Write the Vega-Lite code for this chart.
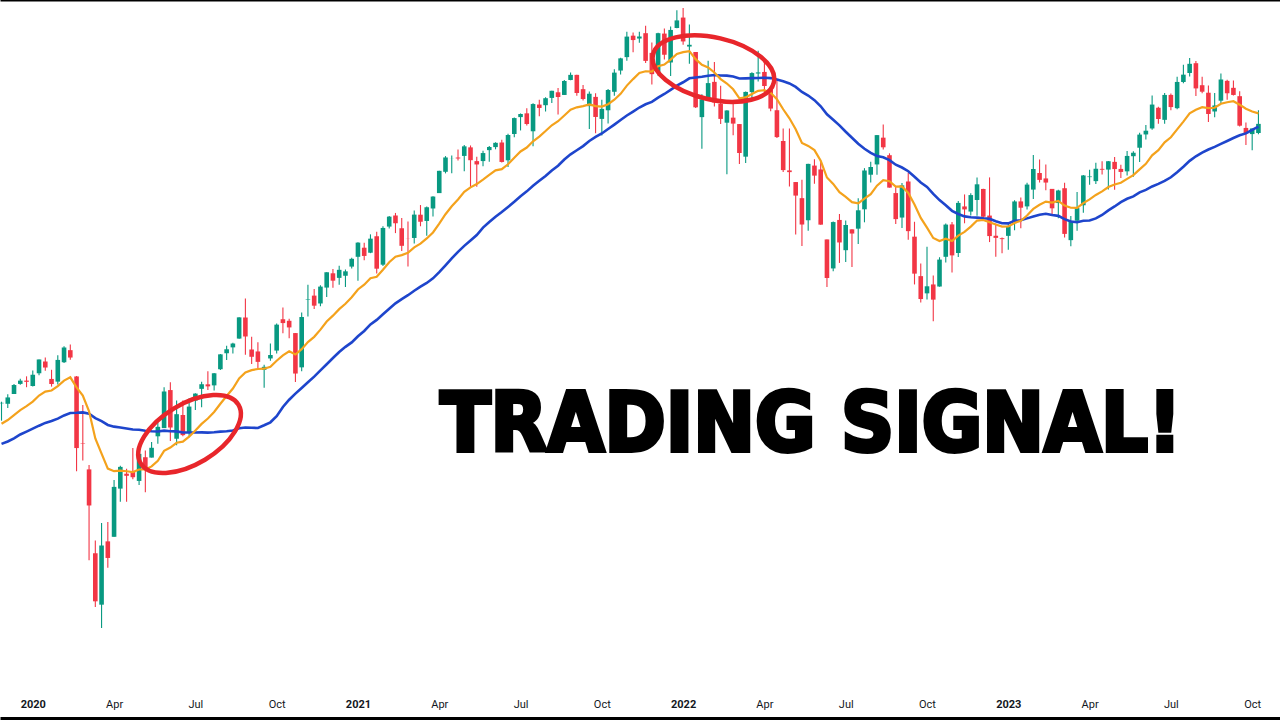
{
  "$schema": "https://vega.github.io/schema/vega-lite/v6.json",
  "width": 1280,
  "height": 718,
  "padding": {"left": 0, "top": 0, "right": 0, "bottom": 2},
  "autosize": "none",
  "background": "#ffffff",
  "config": {"view": {"stroke": null}, "axis": {"grid": false}},
  "datasets": {
    "bars": [
      {"date":"2019-12-02","open":3143.85,"high":3150.6,"low":3070.33,"close":3145.91,"ema13":3057.0,"sma30":2971.9},
      {"date":"2019-12-09","open":3141.86,"high":3182.68,"low":3123.9,"close":3168.8,"ema13":3073.0,"sma30":2982.2},
      {"date":"2019-12-16","open":3183.63,"high":3225.65,"low":3183.63,"close":3221.22,"ema13":3094.1,"sma30":2995.4},
      {"date":"2019-12-23","open":3226.05,"high":3247.93,"low":3223.0,"close":3240.02,"ema13":3114.9,"sma30":3011.7},
      {"date":"2019-12-30","open":3240.09,"high":3258.14,"low":3212.03,"close":3234.85,"ema13":3132.1,"sma30":3023.7},
      {"date":"2020-01-06","open":3217.55,"high":3282.99,"low":3214.64,"close":3265.35,"ema13":3151.1,"sma30":3036.3},
      {"date":"2020-01-13","open":3271.13,"high":3329.88,"low":3263.04,"close":3329.62,"ema13":3176.7,"sma30":3049.0},
      {"date":"2020-01-20","open":3321.03,"high":3337.77,"low":3281.53,"close":3295.47,"ema13":3193.6,"sma30":3060.8},
      {"date":"2020-01-27","open":3247.16,"high":3285.91,"low":3214.68,"close":3225.52,"ema13":3198.2,"sma30":3068.6},
      {"date":"2020-02-03","open":3235.66,"high":3347.96,"low":3223.3,"close":3327.71,"ema13":3216.7,"sma30":3079.1},
      {"date":"2020-02-10","open":3318.28,"high":3385.09,"low":3315.0,"close":3380.16,"ema13":3240.0,"sma30":3092.5},
      {"date":"2020-02-17","open":3369.04,"high":3393.52,"low":3328.45,"close":3337.75,"ema13":3254.0,"sma30":3102.9},
      {"date":"2020-02-24","open":3257.61,"high":3259.81,"low":2855.84,"close":2954.22,"ema13":3211.1,"sma30":3103.7},
      {"date":"2020-03-02","open":2974.28,"high":3136.72,"low":2901.54,"close":2972.37,"ema13":3176.9,"sma30":3105.4},
      {"date":"2020-03-09","open":2863.89,"high":2882.59,"low":2478.86,"close":2711.02,"ema13":3110.3,"sma30":3099.5},
      {"date":"2020-03-16","open":2508.59,"high":2562.98,"low":2280.52,"close":2304.92,"ema13":2995.3,"sma30":3081.4},
      {"date":"2020-03-23","open":2290.71,"high":2637.01,"low":2191.86,"close":2541.47,"ema13":2930.4,"sma30":3068.6},
      {"date":"2020-03-30","open":2558.98,"high":2641.39,"low":2447.49,"close":2488.65,"ema13":2867.3,"sma30":3052.3},
      {"date":"2020-04-06","open":2578.28,"high":2818.57,"low":2578.28,"close":2789.82,"ema13":2856.3,"sma30":3045.0},
      {"date":"2020-04-13","open":2782.46,"high":2879.22,"low":2727.1,"close":2874.56,"ema13":2859.0,"sma30":3041.1},
      {"date":"2020-04-20","open":2845.62,"high":2867.01,"low":2727.1,"close":2836.74,"ema13":2855.9,"sma30":3037.0},
      {"date":"2020-04-27","open":2854.65,"high":2954.86,"low":2822.13,"close":2830.71,"ema13":2852.3,"sma30":3032.9},
      {"date":"2020-05-04","open":2815.01,"high":2932.16,"low":2797.85,"close":2929.8,"ema13":2863.4,"sma30":3031.6},
      {"date":"2020-05-11","open":2915.46,"high":2944.25,"low":2766.64,"close":2863.7,"ema13":2863.5,"sma30":3027.5},
      {"date":"2020-05-18","open":2913.86,"high":2980.29,"low":2913.86,"close":2955.45,"ema13":2876.6,"sma30":3025.3},
      {"date":"2020-05-25","open":3004.08,"high":3068.67,"low":2973.0,"close":3044.31,"ema13":2900.5,"sma30":3024.5},
      {"date":"2020-06-01","open":3038.78,"high":3211.72,"low":3038.78,"close":3193.93,"ema13":2942.4,"sma30":3027.9},
      {"date":"2020-06-08","open":3199.92,"high":3233.13,"low":2984.47,"close":3041.31,"ema13":2956.5,"sma30":3025.2},
      {"date":"2020-06-15","open":2993.76,"high":3155.53,"low":2965.66,"close":3097.74,"ema13":2976.7,"sma30":3024.8},
      {"date":"2020-06-22","open":3094.42,"high":3155.53,"low":3004.63,"close":3009.05,"ema13":2981.3,"sma30":3020.4},
      {"date":"2020-06-29","open":3018.59,"high":3165.81,"low":2999.74,"close":3130.01,"ema13":3002.5,"sma30":3019.9},
      {"date":"2020-07-06","open":3155.29,"high":3186.82,"low":3115.7,"close":3185.04,"ema13":3028.6,"sma30":3020.4},
      {"date":"2020-07-13","open":3205.08,"high":3235.32,"low":3127.66,"close":3224.73,"ema13":3056.7,"sma30":3020.6},
      {"date":"2020-07-20","open":3224.29,"high":3279.32,"low":3200.0,"close":3215.63,"ema13":3079.5,"sma30":3019.8},
      {"date":"2020-07-27","open":3219.84,"high":3272.17,"low":3198.59,"close":3271.12,"ema13":3106.9,"sma30":3021.0},
      {"date":"2020-08-03","open":3288.26,"high":3352.54,"low":3284.53,"close":3351.28,"ema13":3141.8,"sma30":3023.8},
      {"date":"2020-08-10","open":3356.04,"high":3387.89,"low":3327.0,"close":3372.85,"ema13":3174.8,"sma30":3025.3},
      {"date":"2020-08-17","open":3380.86,"high":3399.96,"low":3354.69,"close":3397.16,"ema13":3206.5,"sma30":3028.7},
      {"date":"2020-08-24","open":3418.09,"high":3509.0,"low":3417.0,"close":3508.01,"ema13":3249.6,"sma30":3038.1},
      {"date":"2020-08-31","open":3507.44,"high":3588.11,"low":3349.63,"close":3426.96,"ema13":3274.9,"sma30":3041.4},
      {"date":"2020-09-07","open":3371.88,"high":3425.55,"low":3310.47,"close":3340.97,"ema13":3284.3,"sma30":3040.1},
      {"date":"2020-09-14","open":3363.56,"high":3402.93,"low":3292.4,"close":3319.47,"ema13":3289.3,"sma30":3039.4},
      {"date":"2020-09-21","open":3285.57,"high":3306.88,"low":3209.45,"close":3298.46,"ema13":3290.5,"sma30":3050.9},
      {"date":"2020-09-28","open":3333.9,"high":3397.18,"low":3323.69,"close":3348.44,"ema13":3298.7,"sma30":3063.4},
      {"date":"2020-10-05","open":3367.27,"high":3482.34,"low":3354.54,"close":3477.13,"ema13":3324.2,"sma30":3089.0},
      {"date":"2020-10-12","open":3500.02,"high":3549.85,"low":3440.45,"close":3483.81,"ema13":3347.0,"sma30":3128.3},
      {"date":"2020-10-19","open":3493.5,"high":3502.42,"low":3419.93,"close":3465.39,"ema13":3363.9,"sma30":3159.1},
      {"date":"2020-10-26","open":3441.42,"high":3441.42,"low":3233.94,"close":3269.96,"ema13":3350.5,"sma30":3185.1},
      {"date":"2020-11-02","open":3296.2,"high":3529.05,"low":3279.74,"close":3509.44,"ema13":3373.1,"sma30":3209.1},
      {"date":"2020-11-09","open":3583.04,"high":3645.99,"low":3511.91,"close":3585.15,"ema13":3403.4,"sma30":3232.7},
      {"date":"2020-11-16","open":3600.16,"high":3628.51,"low":3543.55,"close":3557.54,"ema13":3425.5,"sma30":3256.8},
      {"date":"2020-11-23","open":3566.82,"high":3644.31,"low":3555.0,"close":3638.35,"ema13":3455.9,"sma30":3283.7},
      {"date":"2020-11-30","open":3634.18,"high":3699.2,"low":3594.39,"close":3699.12,"ema13":3490.6,"sma30":3309.3},
      {"date":"2020-12-07","open":3694.73,"high":3712.39,"low":3633.4,"close":3663.46,"ema13":3515.2,"sma30":3335.9},
      {"date":"2020-12-14","open":3675.27,"high":3726.7,"low":3645.84,"close":3709.41,"ema13":3542.9,"sma30":3361.1},
      {"date":"2020-12-21","open":3684.28,"high":3711.24,"low":3636.48,"close":3703.06,"ema13":3565.8,"sma30":3383.0},
      {"date":"2020-12-28","open":3723.03,"high":3760.2,"low":3715.0,"close":3756.07,"ema13":3593.0,"sma30":3401.8},
      {"date":"2021-01-04","open":3764.61,"high":3826.69,"low":3662.71,"close":3824.68,"ema13":3626.1,"sma30":3427.9},
      {"date":"2021-01-11","open":3803.14,"high":3823.6,"low":3749.63,"close":3768.25,"ema13":3646.4,"sma30":3450.2},
      {"date":"2021-01-18","open":3781.88,"high":3859.75,"low":3780.0,"close":3841.47,"ema13":3674.2,"sma30":3478.0},
      {"date":"2021-01-25","open":3851.68,"high":3870.9,"low":3694.12,"close":3714.24,"ema13":3679.9,"sma30":3497.4},
      {"date":"2021-02-01","open":3731.17,"high":3894.56,"low":3725.62,"close":3886.83,"ema13":3709.5,"sma30":3520.8},
      {"date":"2021-02-08","open":3892.59,"high":3937.23,"low":3884.94,"close":3934.83,"ema13":3741.7,"sma30":3544.5},
      {"date":"2021-02-15","open":3939.61,"high":3950.43,"low":3865.0,"close":3906.71,"ema13":3765.3,"sma30":3567.5},
      {"date":"2021-02-22","open":3885.55,"high":3928.65,"low":3789.54,"close":3811.15,"ema13":3771.8,"sma30":3585.5},
      {"date":"2021-03-01","open":3842.51,"high":3914.5,"low":3723.34,"close":3841.94,"ema13":3781.8,"sma30":3601.9},
      {"date":"2021-03-08","open":3844.39,"high":3960.27,"low":3821.0,"close":3943.34,"ema13":3804.8,"sma30":3620.9},
      {"date":"2021-03-15","open":3942.96,"high":3983.87,"low":3894.0,"close":3913.1,"ema13":3820.3,"sma30":3638.1},
      {"date":"2021-03-22","open":3916.48,"high":3978.19,"low":3853.5,"close":3974.54,"ema13":3842.4,"sma30":3653.7},
      {"date":"2021-03-29","open":3969.31,"high":4020.63,"low":3935.0,"close":4019.87,"ema13":3867.8,"sma30":3673.4},
      {"date":"2021-04-05","open":4034.44,"high":4129.48,"low":4034.44,"close":4128.8,"ema13":3905.1,"sma30":3699.7},
      {"date":"2021-04-12","open":4124.71,"high":4191.31,"low":4118.0,"close":4185.47,"ema13":3945.1,"sma30":3728.6},
      {"date":"2021-04-19","open":4179.8,"high":4194.17,"low":4118.38,"close":4180.17,"ema13":3978.7,"sma30":3758.0},
      {"date":"2021-04-26","open":4185.14,"high":4218.78,"low":4173.0,"close":4181.17,"ema13":4007.6,"sma30":3785.7},
      {"date":"2021-05-03","open":4191.98,"high":4238.04,"low":4126.56,"close":4232.6,"ema13":4039.8,"sma30":3810.9},
      {"date":"2021-05-10","open":4228.29,"high":4236.39,"low":4056.88,"close":4173.85,"ema13":4059.0,"sma30":3833.9},
      {"date":"2021-05-17","open":4169.92,"high":4188.0,"low":4061.41,"close":4155.86,"ema13":4072.9,"sma30":3857.0},
      {"date":"2021-05-24","open":4170.16,"high":4213.42,"low":4148.0,"close":4204.11,"ema13":4091.6,"sma30":3888.1},
      {"date":"2021-05-31","open":4216.52,"high":4234.12,"low":4167.59,"close":4229.89,"ema13":4111.4,"sma30":3912.1},
      {"date":"2021-06-07","open":4229.34,"high":4249.74,"low":4220.0,"close":4247.44,"ema13":4130.8,"sma30":3934.2},
      {"date":"2021-06-14","open":4248.87,"high":4261.0,"low":4164.4,"close":4166.45,"ema13":4135.8,"sma30":3954.5},
      {"date":"2021-06-21","open":4173.4,"high":4286.12,"low":4144.56,"close":4280.7,"ema13":4156.5,"sma30":3975.9},
      {"date":"2021-06-28","open":4284.9,"high":4355.0,"low":4271.0,"close":4352.34,"ema13":4184.4,"sma30":3997.7},
      {"date":"2021-07-05","open":4356.46,"high":4372.0,"low":4300.0,"close":4369.55,"ema13":4210.9,"sma30":4021.2},
      {"date":"2021-07-12","open":4372.41,"high":4393.68,"low":4321.0,"close":4327.16,"ema13":4227.5,"sma30":4041.8},
      {"date":"2021-07-19","open":4296.4,"high":4415.18,"low":4233.13,"close":4411.79,"ema13":4253.9,"sma30":4065.5},
      {"date":"2021-07-26","open":4409.58,"high":4429.97,"low":4360.0,"close":4395.26,"ema13":4274.1,"sma30":4086.8},
      {"date":"2021-08-02","open":4406.86,"high":4440.82,"low":4380.0,"close":4436.52,"ema13":4297.4,"sma30":4107.2},
      {"date":"2021-08-09","open":4437.77,"high":4468.0,"low":4416.0,"close":4468.0,"ema13":4321.8,"sma30":4130.5},
      {"date":"2021-08-16","open":4461.65,"high":4480.26,"low":4367.73,"close":4441.67,"ema13":4339.0,"sma30":4150.5},
      {"date":"2021-08-23","open":4450.29,"high":4513.33,"low":4450.0,"close":4509.37,"ema13":4363.3,"sma30":4177.0},
      {"date":"2021-08-30","open":4513.76,"high":4545.85,"low":4513.0,"close":4535.43,"ema13":4387.8,"sma30":4198.6},
      {"date":"2021-09-06","open":4535.38,"high":4535.38,"low":4447.0,"close":4458.58,"ema13":4398.0,"sma30":4216.1},
      {"date":"2021-09-13","open":4474.81,"high":4492.0,"low":4427.0,"close":4432.99,"ema13":4403.0,"sma30":4233.6},
      {"date":"2021-09-20","open":4402.95,"high":4465.0,"low":4305.91,"close":4455.48,"ema13":4410.4,"sma30":4255.1},
      {"date":"2021-09-27","open":4442.12,"high":4457.0,"low":4288.52,"close":4357.04,"ema13":4402.8,"sma30":4272.3},
      {"date":"2021-10-04","open":4348.84,"high":4429.97,"low":4278.94,"close":4391.34,"ema13":4401.1,"sma30":4287.2},
      {"date":"2021-10-11","open":4385.44,"high":4475.82,"low":4329.0,"close":4471.37,"ema13":4411.1,"sma30":4305.8},
      {"date":"2021-10-18","open":4463.72,"high":4559.67,"low":4447.0,"close":4544.9,"ema13":4430.2,"sma30":4324.8},
      {"date":"2021-10-25","open":4553.69,"high":4608.08,"low":4537.0,"close":4605.38,"ema13":4455.2,"sma30":4344.3},
      {"date":"2021-11-01","open":4610.62,"high":4718.5,"low":4595.0,"close":4697.53,"ema13":4489.9,"sma30":4363.3},
      {"date":"2021-11-08","open":4701.48,"high":4714.92,"low":4630.86,"close":4682.85,"ema13":4517.5,"sma30":4379.9},
      {"date":"2021-11-15","open":4689.3,"high":4717.75,"low":4672.0,"close":4697.96,"ema13":4543.3,"sma30":4397.1},
      {"date":"2021-11-22","open":4712.0,"high":4743.83,"low":4585.43,"close":4594.62,"ema13":4550.7,"sma30":4410.9},
      {"date":"2021-11-29","open":4628.75,"high":4672.95,"low":4495.12,"close":4538.43,"ema13":4548.9,"sma30":4421.1},
      {"date":"2021-12-06","open":4548.37,"high":4713.57,"low":4532.0,"close":4712.02,"ema13":4572.2,"sma30":4439.0},
      {"date":"2021-12-13","open":4710.3,"high":4731.99,"low":4600.22,"close":4620.64,"ema13":4579.2,"sma30":4454.5},
      {"date":"2021-12-20","open":4587.9,"high":4740.74,"low":4531.1,"close":4725.79,"ema13":4600.2,"sma30":4471.9},
      {"date":"2021-12-27","open":4733.99,"high":4808.93,"low":4733.0,"close":4766.18,"ema13":4623.9,"sma30":4489.8},
      {"date":"2022-01-03","open":4778.14,"high":4818.62,"low":4662.74,"close":4677.03,"ema13":4631.5,"sma30":4504.1},
      {"date":"2022-01-10","open":4655.34,"high":4748.83,"low":4582.24,"close":4662.85,"ema13":4636.0,"sma30":4520.7},
      {"date":"2022-01-17","open":4632.24,"high":4632.24,"low":4395.34,"close":4397.94,"ema13":4602.0,"sma30":4524.6},
      {"date":"2022-01-24","open":4356.32,"high":4453.23,"low":4222.62,"close":4431.85,"ema13":4577.7,"sma30":4527.3},
      {"date":"2022-01-31","open":4431.79,"high":4595.31,"low":4431.79,"close":4500.53,"ema13":4566.7,"sma30":4531.6},
      {"date":"2022-02-07","open":4505.75,"high":4590.03,"low":4401.41,"close":4418.64,"ema13":4545.6,"sma30":4534.7},
      {"date":"2022-02-14","open":4412.61,"high":4489.55,"low":4327.22,"close":4348.87,"ema13":4517.5,"sma30":4532.6},
      {"date":"2022-02-21","open":4332.74,"high":4385.34,"low":4114.65,"close":4384.65,"ema13":4498.6,"sma30":4532.3},
      {"date":"2022-02-28","open":4354.17,"high":4416.78,"low":4279.54,"close":4328.87,"ema13":4474.4,"sma30":4528.7},
      {"date":"2022-03-07","open":4327.01,"high":4327.01,"low":4157.87,"close":4204.31,"ema13":4435.8,"sma30":4519.9},
      {"date":"2022-03-14","open":4188.82,"high":4465.4,"low":4161.72,"close":4463.12,"ema13":4439.7,"sma30":4520.6},
      {"date":"2022-03-21","open":4462.4,"high":4546.03,"low":4424.3,"close":4543.06,"ema13":4454.5,"sma30":4521.7},
      {"date":"2022-03-28","open":4541.09,"high":4637.3,"low":4507.57,"close":4545.86,"ema13":4467.6,"sma30":4522.1},
      {"date":"2022-04-04","open":4547.97,"high":4593.45,"low":4450.04,"close":4488.28,"ema13":4470.5,"sma30":4523.0},
      {"date":"2022-04-11","open":4474.65,"high":4474.65,"low":4381.34,"close":4392.59,"ema13":4459.4,"sma30":4521.7},
      {"date":"2022-04-18","open":4385.63,"high":4512.94,"low":4267.62,"close":4271.78,"ema13":4432.6,"sma30":4515.6},
      {"date":"2022-04-25","open":4255.34,"high":4308.45,"low":4124.28,"close":4131.93,"ema13":4389.7,"sma30":4508.1},
      {"date":"2022-05-02","open":4130.61,"high":4307.66,"low":4062.51,"close":4123.34,"ema13":4351.6,"sma30":4499.2},
      {"date":"2022-05-09","open":4081.27,"high":4081.27,"low":3858.87,"close":4023.89,"ema13":4304.8,"sma30":4484.3},
      {"date":"2022-05-16","open":4013.02,"high":4090.72,"low":3810.32,"close":3901.36,"ema13":4247.1,"sma30":4462.8},
      {"date":"2022-05-23","open":3919.42,"high":4158.49,"low":3875.13,"close":4158.24,"ema13":4234.4,"sma30":4447.9},
      {"date":"2022-05-30","open":4151.09,"high":4177.51,"low":4073.85,"close":4108.54,"ema13":4216.5,"sma30":4428.3},
      {"date":"2022-06-06","open":4134.72,"high":4168.78,"low":3900.16,"close":3900.86,"ema13":4171.4,"sma30":4402.2},
      {"date":"2022-06-13","open":3838.15,"high":3838.15,"low":3636.87,"close":3674.84,"ema13":4100.5,"sma30":4368.1},
      {"date":"2022-06-20","open":3715.31,"high":3913.65,"low":3702.91,"close":3911.74,"ema13":4073.6,"sma30":4345.3},
      {"date":"2022-06-27","open":3920.76,"high":3945.86,"low":3738.67,"close":3825.33,"ema13":4038.1,"sma30":4321.6},
      {"date":"2022-07-04","open":3792.61,"high":3918.5,"low":3742.06,"close":3899.38,"ema13":4018.2,"sma30":4294.5},
      {"date":"2022-07-11","open":3880.94,"high":3880.94,"low":3721.56,"close":3863.16,"ema13":3996.0,"sma30":4269.2},
      {"date":"2022-07-18","open":3883.79,"high":4012.44,"low":3818.63,"close":3961.63,"ema13":3991.1,"sma30":4243.7},
      {"date":"2022-07-25","open":3965.72,"high":4140.15,"low":3910.74,"close":4130.29,"ema13":4010.9,"sma30":4222.5},
      {"date":"2022-08-01","open":4112.38,"high":4167.66,"low":4079.81,"close":4145.19,"ema13":4030.1,"sma30":4204.8},
      {"date":"2022-08-08","open":4155.93,"high":4280.47,"low":4112.09,"close":4280.15,"ema13":4065.8,"sma30":4192.0},
      {"date":"2022-08-15","open":4269.37,"high":4325.28,"low":4218.7,"close":4228.48,"ema13":4089.0,"sma30":4186.4},
      {"date":"2022-08-22","open":4195.08,"high":4203.04,"low":4057.66,"close":4057.66,"ema13":4084.6,"sma30":4173.9},
      {"date":"2022-08-29","open":4034.58,"high":4062.99,"low":3903.65,"close":3924.26,"ema13":4061.7,"sma30":4154.7},
      {"date":"2022-09-05","open":3930.89,"high":4076.81,"low":3886.75,"close":4067.36,"ema13":4062.5,"sma30":4142.9},
      {"date":"2022-09-12","open":4083.67,"high":4119.28,"low":3837.08,"close":3873.33,"ema13":4035.4,"sma30":4127.1},
      {"date":"2022-09-19","open":3849.91,"high":3913.0,"low":3647.47,"close":3693.23,"ema13":3986.5,"sma30":4104.0},
      {"date":"2022-09-26","open":3682.72,"high":3736.74,"low":3571.0,"close":3585.62,"ema13":3929.3,"sma30":4079.2},
      {"date":"2022-10-03","open":3609.78,"high":3806.91,"low":3584.13,"close":3639.66,"ema13":3888.0,"sma30":4060.4},
      {"date":"2022-10-10","open":3647.51,"high":3685.41,"low":3491.58,"close":3583.07,"ema13":3844.4,"sma30":4031.1},
      {"date":"2022-10-17","open":3638.65,"high":3762.79,"low":3638.0,"close":3752.75,"ema13":3831.3,"sma30":4004.8},
      {"date":"2022-10-24","open":3764.6,"high":3905.42,"low":3740.0,"close":3901.06,"ema13":3841.3,"sma30":3983.3},
      {"date":"2022-10-31","open":3901.79,"high":3911.79,"low":3698.15,"close":3770.55,"ema13":3831.3,"sma30":3959.4},
      {"date":"2022-11-07","open":3780.71,"high":4001.48,"low":3764.0,"close":3992.93,"ema13":3854.4,"sma30":3946.0},
      {"date":"2022-11-14","open":3977.97,"high":4028.84,"low":3906.54,"close":3965.34,"ema13":3870.2,"sma30":3935.8},
      {"date":"2022-11-21","open":3956.23,"high":4034.02,"low":3940.0,"close":4026.12,"ema13":3892.5,"sma30":3932.3},
      {"date":"2022-11-28","open":4005.36,"high":4100.51,"low":3939.0,"close":4071.7,"ema13":3918.1,"sma30":3930.6},
      {"date":"2022-12-05","open":4052.02,"high":4052.45,"low":3918.39,"close":3934.38,"ema13":3920.4,"sma30":3927.6},
      {"date":"2022-12-12","open":3939.29,"high":4100.96,"low":3827.0,"close":3852.36,"ema13":3910.6,"sma30":3925.9},
      {"date":"2022-12-19","open":3853.79,"high":3906.0,"low":3764.49,"close":3844.82,"ema13":3901.2,"sma30":3915.5},
      {"date":"2022-12-26","open":3843.34,"high":3846.65,"low":3780.0,"close":3839.5,"ema13":3892.5,"sma30":3906.5},
      {"date":"2023-01-02","open":3853.29,"high":3906.0,"low":3794.33,"close":3895.08,"ema13":3892.9,"sma30":3906.3},
      {"date":"2023-01-09","open":3910.82,"high":4003.95,"low":3877.29,"close":3999.09,"ema13":3908.1,"sma30":3917.1},
      {"date":"2023-01-16","open":3999.28,"high":4015.39,"low":3885.54,"close":3972.61,"ema13":3917.4,"sma30":3919.2},
      {"date":"2023-01-23","open":3978.14,"high":4078.49,"low":3965.0,"close":4070.56,"ema13":3939.3,"sma30":3927.4},
      {"date":"2023-01-30","open":4049.27,"high":4195.44,"low":4010.0,"close":4136.48,"ema13":3967.4,"sma30":3935.3},
      {"date":"2023-02-06","open":4119.57,"high":4176.54,"low":4079.0,"close":4090.46,"ema13":3984.9,"sma30":3942.8},
      {"date":"2023-02-13","open":4096.62,"high":4156.0,"low":4047.0,"close":4079.09,"ema13":3998.3,"sma30":3946.7},
      {"date":"2023-02-20","open":4052.35,"high":4052.35,"low":3943.08,"close":3970.04,"ema13":3994.3,"sma30":3941.4},
      {"date":"2023-02-27","open":3992.36,"high":4048.29,"low":3928.16,"close":4045.64,"ema13":4001.7,"sma30":3938.1},
      {"date":"2023-03-06","open":4055.15,"high":4078.49,"low":3846.32,"close":3861.59,"ema13":3981.7,"sma30":3924.2},
      {"date":"2023-03-13","open":3835.12,"high":3937.29,"low":3808.86,"close":3916.64,"ema13":3972.5,"sma30":3913.8},
      {"date":"2023-03-20","open":3917.47,"high":4039.49,"low":3874.94,"close":3970.99,"ema13":3972.3,"sma30":3910.9},
      {"date":"2023-03-27","open":3982.93,"high":4110.75,"low":3951.53,"close":4109.31,"ema13":3991.8,"sma30":3917.1},
      {"date":"2023-04-03","open":4102.2,"high":4133.13,"low":4069.84,"close":4105.02,"ema13":4008.0,"sma30":3918.3},
      {"date":"2023-04-10","open":4085.2,"high":4163.19,"low":4072.55,"close":4137.64,"ema13":4026.6,"sma30":3927.2},
      {"date":"2023-04-17","open":4137.17,"high":4169.48,"low":4113.2,"close":4133.52,"ema13":4041.9,"sma30":3941.9},
      {"date":"2023-04-24","open":4134.14,"high":4170.06,"low":4049.35,"close":4169.48,"ema13":4060.1,"sma30":3961.3},
      {"date":"2023-05-01","open":4166.79,"high":4186.92,"low":4048.28,"close":4136.25,"ema13":4070.9,"sma30":3977.8},
      {"date":"2023-05-08","open":4136.98,"high":4154.28,"low":4098.92,"close":4124.08,"ema13":4078.5,"sma30":3995.9},
      {"date":"2023-05-15","open":4126.65,"high":4212.91,"low":4109.0,"close":4191.98,"ema13":4094.7,"sma30":4010.5},
      {"date":"2023-05-22","open":4190.78,"high":4212.0,"low":4103.98,"close":4205.45,"ema13":4110.5,"sma30":4020.6},
      {"date":"2023-05-29","open":4226.71,"high":4290.67,"low":4166.15,"close":4282.37,"ema13":4135.0,"sma30":4037.7},
      {"date":"2023-06-05","open":4282.99,"high":4322.62,"low":4261.07,"close":4298.86,"ema13":4158.4,"sma30":4047.9},
      {"date":"2023-06-12","open":4308.32,"high":4448.47,"low":4303.0,"close":4409.59,"ema13":4194.3,"sma30":4062.7},
      {"date":"2023-06-19","open":4396.11,"high":4400.15,"low":4328.0,"close":4348.33,"ema13":4216.3,"sma30":4073.4},
      {"date":"2023-06-26","open":4344.84,"high":4458.48,"low":4328.08,"close":4450.38,"ema13":4249.7,"sma30":4086.0},
      {"date":"2023-07-03","open":4450.48,"high":4456.46,"low":4385.05,"close":4398.95,"ema13":4271.0,"sma30":4101.5},
      {"date":"2023-07-10","open":4394.23,"high":4527.76,"low":4389.92,"close":4505.42,"ema13":4304.4,"sma30":4123.3},
      {"date":"2023-07-17","open":4505.3,"high":4578.43,"low":4500.0,"close":4536.34,"ema13":4337.5,"sma30":4146.3},
      {"date":"2023-07-24","open":4543.39,"high":4607.07,"low":4528.56,"close":4582.23,"ema13":4372.4,"sma30":4171.1},
      {"date":"2023-07-31","open":4584.82,"high":4594.22,"low":4446.0,"close":4478.03,"ema13":4387.5,"sma30":4190.5},
      {"date":"2023-08-07","open":4491.58,"high":4527.37,"low":4457.92,"close":4464.05,"ema13":4398.4,"sma30":4206.0},
      {"date":"2023-08-14","open":4459.79,"high":4490.33,"low":4335.31,"close":4369.71,"ema13":4394.3,"sma30":4219.2},
      {"date":"2023-08-21","open":4380.28,"high":4458.3,"low":4356.29,"close":4405.71,"ema13":4396.0,"sma30":4230.4},
      {"date":"2023-08-28","open":4426.03,"high":4541.25,"low":4415.0,"close":4515.77,"ema13":4413.1,"sma30":4243.1},
      {"date":"2023-09-04","open":4510.06,"high":4514.29,"low":4430.46,"close":4457.49,"ema13":4419.4,"sma30":4255.3},
      {"date":"2023-09-11","open":4480.5,"high":4511.99,"low":4448.0,"close":4450.32,"ema13":4423.8,"sma30":4267.7},
      {"date":"2023-09-18","open":4445.13,"high":4466.36,"low":4316.49,"close":4320.06,"ema13":4409.0,"sma30":4279.3},
      {"date":"2023-09-25","open":4310.62,"high":4333.15,"low":4238.63,"close":4288.05,"ema13":4391.7,"sma30":4287.4},
      {"date":"2023-10-02","open":4284.52,"high":4300.58,"low":4216.45,"close":4308.5,"ema13":4379.9,"sma30":4302.3},
      {"date":"2023-10-09","open":4289.02,"high":4385.46,"low":4283.79,"close":4327.78,"ema13":4372.5,"sma30":4316.0}
    ],
    "ring1": [{"date": "2020-06-29T11:30:00Z", "price": 3013.8}],
    "ring2": [{"date": "2022-02-05T21:40:00Z", "price": 4562.0}],
    "headline": [{"date": "2022-05-26T02:00:00Z", "price": 2942.0, "label": "TRADING SIGNAL!"}]
  },
  "layer": [
    {
      "data": {"name": "bars"},
      "mark": {"type": "rule", "strokeWidth": 1.1, "clip": true},
      "encoding": {
        "x": {
          "field": "date", "type": "temporal",
          "scale": {"type": "utc", "domain": [{"year": 2019, "month": 12, "date": 5, "hours": 21, "minutes": 38, "utc": true}, {"year": 2023, "month": 10, "date": 27, "hours": 13, "minutes": 5, "utc": true}]},
          "axis": {
            "orient": "bottom", "title": null, "grid": false, "ticks": false,
            "domain": true, "domainColor": "#000000", "domainWidth": 3,
            "values": [
              {"year": 2020, "month": 1, "date": 6, "utc": true},
              {"year": 2020, "month": 4, "date": 6, "utc": true},
              {"year": 2020, "month": 7, "date": 6, "utc": true},
              {"year": 2020, "month": 10, "date": 5, "utc": true},
              {"year": 2021, "month": 1, "date": 4, "utc": true},
              {"year": 2021, "month": 4, "date": 5, "utc": true},
              {"year": 2021, "month": 7, "date": 5, "utc": true},
              {"year": 2021, "month": 10, "date": 4, "utc": true},
              {"year": 2022, "month": 1, "date": 3, "utc": true},
              {"year": 2022, "month": 4, "date": 4, "utc": true},
              {"year": 2022, "month": 7, "date": 4, "utc": true},
              {"year": 2022, "month": 10, "date": 3, "utc": true},
              {"year": 2023, "month": 1, "date": 2, "utc": true},
              {"year": 2023, "month": 4, "date": 3, "utc": true},
              {"year": 2023, "month": 7, "date": 3, "utc": true},
              {"year": 2023, "month": 10, "date": 2, "utc": true}
            ],
            "labelExpr": "utcmonth(datum.value) == 0 ? utcFormat(datum.value, '%Y') : utcFormat(datum.value, '%b')",
            "labelFontWeight": {"condition": {"test": "utcmonth(datum.value) == 0", "value": "bold"}, "value": "normal"},
            "labelFont": "Roboto", "labelFontSize": 11, "labelColor": "#131722",
            "labelPadding": -14, "labelBaseline": "middle", "labelOverlap": false, "labelFlush": false
          }
        },
        "y": {"field": "low", "type": "quantitative", "scale": {"domain": [1810.6, 4852.6], "nice": false, "zero": false}, "axis": null},
        "y2": {"field": "high"},
        "color": {"condition": {"test": "datum.close >= datum.open", "value": "#089981"}, "value": "#f23645"}
      }
    },
    {
      "data": {"name": "bars"},
      "mark": {"type": "bar", "width": 4.6, "clip": true},
      "encoding": {
        "x": {"field": "date", "type": "temporal", "axis": {"orient": "top", "title": null, "labels": false, "ticks": false, "grid": false, "domain": true, "domainColor": "#000000", "domainWidth": 2}},
        "y": {"field": "open", "type": "quantitative", "axis": null},
        "y2": {"field": "close"},
        "color": {"condition": {"test": "datum.close >= datum.open", "value": "#089981"}, "value": "#f23645"}
      }
    },
    {
      "data": {"name": "bars"},
      "mark": {"type": "line", "color": "#1e45cc", "strokeWidth": 2.6, "clip": true},
      "encoding": {
        "x": {"field": "date", "type": "temporal", "axis": null},
        "y": {"field": "sma30", "type": "quantitative", "axis": null}
      }
    },
    {
      "data": {"name": "bars"},
      "mark": {"type": "line", "color": "#f4a21c", "strokeWidth": 2.2, "clip": true},
      "encoding": {
        "x": {"field": "date", "type": "temporal", "axis": null},
        "y": {"field": "ema13", "type": "quantitative", "axis": null}
      }
    },
    {
      "data": {"name": "ring1"},
      "mark": {"type": "point", "shape": "M 1 0 C 1 0.2905 0.5523 0.526 0 0.526 C -0.5523 0.526 -1 0.2905 -1 0 C -1 -0.2905 -0.5523 -0.526 0 -0.526 C 0.5523 -0.526 1 -0.2905 1 0 Z", "size": 12996, "angle": 329, "filled": false, "color": "#e8262b", "strokeWidth": 4.5, "opacity": 1},
      "encoding": {
        "x": {"field": "date", "type": "temporal", "axis": null},
        "y": {"field": "price", "type": "quantitative", "axis": null}
      }
    },
    {
      "data": {"name": "ring2"},
      "mark": {"type": "point", "shape": "M 1 0 C 1 0.2761 0.5523 0.5 0 0.5 C -0.5523 0.5 -1 0.2761 -1 0 C -1 -0.2761 -0.5523 -0.5 0 -0.5 C 0.5523 -0.5 1 -0.2761 1 0 Z", "size": 15376, "angle": 13, "filled": false, "color": "#e8262b", "strokeWidth": 4.5, "opacity": 1},
      "encoding": {
        "x": {"field": "date", "type": "temporal", "axis": null},
        "y": {"field": "price", "type": "quantitative", "axis": null}
      }
    },
    {
      "data": {"name": "headline"},
      "mark": {"type": "text", "font": "DejaVu Sans Condensed, DejaVu Sans, sans-serif", "fontWeight": "bold", "fontSize": 82, "align": "center", "baseline": "alphabetic", "fill": "#000000", "stroke": "#000000", "strokeWidth": 4, "strokeJoin": "miter"},
      "encoding": {
        "x": {"field": "date", "type": "temporal", "axis": null},
        "y": {"field": "price", "type": "quantitative", "axis": null},
        "text": {"field": "label"}
      }
    }
  ],
  "resolve": {"axis": {"x": "independent"}}
}
